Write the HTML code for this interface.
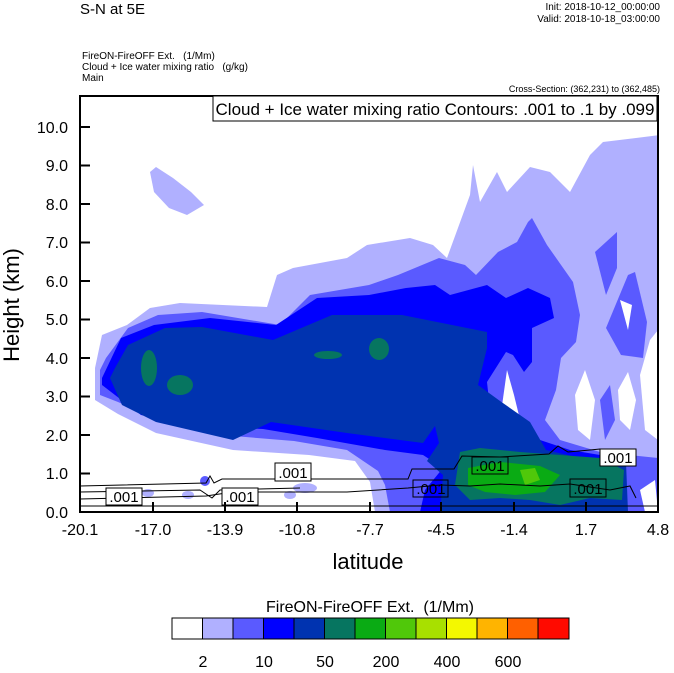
<!DOCTYPE html>
<html><head><meta charset="utf-8"><style>
body{margin:0;background:#fff;width:674px;height:668px;overflow:hidden}
text{font-family:"Liberation Sans",Arial,sans-serif;fill:#000;white-space:pre}
</style></head><body>
<svg width="674" height="668" viewBox="0 0 674 668" xmlns="http://www.w3.org/2000/svg">
<text x="80" y="14" font-size="15">S-N at 5E</text>
<text x="660" y="10" font-size="10" text-anchor="end">Init: 2018-10-12_00:00:00</text>
<text x="660" y="22" font-size="10" text-anchor="end">Valid: 2018-10-18_03:00:00</text>
<text x="82" y="59" font-size="10">FireON-FireOFF Ext.   (1/Mm)</text>
<text x="82" y="70" font-size="10">Cloud + Ice water mixing ratio   (g/kg)</text>
<text x="82" y="81" font-size="10">Main</text>
<text x="660" y="92" font-size="9" text-anchor="end">Cross-Section: (362,231) to (362,485)</text>
<defs><clipPath id="c"><rect x="80" y="96" width="578" height="416"/></clipPath></defs>
<g clip-path="url(#c)">
<path fill="#b0b0ff" d="M95,400 L95,368 L102,335 L127,325 L150,308 L180,303 L267,307 L277,275 L293,268 L347,258 L367,245 L410,238 L433,245 L447,258 L470,195 L473,165 L480,202 L497,172 L507,192 L530,167 L550,172 L570,192 L590,155 L603,142 L660,135 L660,512 L375,512 L370,482 L355,461 L309,455 L233,450 L156,433 L118,414 Z"/>
<path fill="#b0b0ff" d="M150,172 L156,167 L173,178 L191,192 L204,205 L187,215 L169,208 L154,192 Z"/>
<ellipse cx="205" cy="481" rx="5" ry="5" fill="#5a5aff"/>
<ellipse cx="148" cy="493" rx="6" ry="4" fill="#b0b0ff"/>
<ellipse cx="188" cy="495" rx="6" ry="4" fill="#b0b0ff"/>
<ellipse cx="290" cy="495" rx="6" ry="4" fill="#b0b0ff"/>
<ellipse cx="305" cy="488" rx="12" ry="5" fill="#b0b0ff"/>
<path fill="#5a5aff" d="M100,395 L100,370 L106,358 L128,328 L158,315 L202,312 L280,325 L310,295 L369,285 L398,275 L439,258 L465,265 L476,275 L498,252 L517,242 L528,222 L532,218 L547,245 L573,282 L580,315 L576,342 L561,358 L556,390 L545,420 L560,440 L600,452 L658,458 L658,512 L390,512 L385,485 L378,471 L347,450 L294,441 L233,436 L156,419 L118,402 Z"/>
<path fill="#5a5aff" d="M595,252 L617,232 L617,268 L606,295 Z"/>
<path fill="#5a5aff" d="M628,275 L635,272 L647,322 L643,358 L621,355 L606,328 Z"/>
<path fill="#5a5aff" d="M600,400 L610,385 L615,420 L605,440 Z"/>
<path fill="#fff" d="M500,420 L507,370 L514,395 L525,440 L520,455 L505,455 Z"/>
<path fill="#fff" d="M575,395 L585,370 L595,400 L590,440 L578,430 Z"/>
<path fill="#fff" d="M618,390 L628,372 L636,400 L630,430 L620,420 Z"/>
<path fill="#fff" d="M640,375 L650,340 L658,330 L658,440 L645,430 Z"/>
<path fill="#fff" d="M620,300 L632,305 L628,330 Z"/>
<path fill="#fff" d="M640,490 L655,480 L658,512 L645,512 Z"/>
<path fill="#0000ff" d="M102,385 L102,378 L121,338 L154,325 L210,318 L276,325 L317,298 L369,295 L406,288 L435,285 L450,295 L487,285 L506,298 L528,288 L550,298 L554,318 L532,328 L532,362 L524,372 L513,355 L506,352 L487,382 L490,410 L500,430 L540,440 L570,450 L600,455 L625,460 L625,512 L420,512 L425,490 L443,468 L423,455 L385,450 L317,438 L263,429 L194,426 L141,415 Z"/>
<path fill="#0033b0" d="M110,378 L115,368 L128,345 L165,328 L202,327 L273,340 L332,315 L402,315 L487,332 L487,348 L478,385 L500,401 L530,422 L546,450 L576,457 L626,462 L628,512 L440,512 L443,475 L427,461 L439,443 L435,426 L423,443 L347,433 L271,422 L233,440 L156,422 L122,405 Z"/>
<ellipse cx="149" cy="368" rx="8" ry="18" fill="#067560"/>
<ellipse cx="180" cy="385" rx="13" ry="10" fill="#067560"/>
<ellipse cx="379" cy="349" rx="10" ry="11" fill="#067560"/>
<ellipse cx="328" cy="355" rx="14" ry="4" fill="#067560"/>
<path fill="#067560" d="M460,452 L480,448 L520,452 L560,455 L600,458 L624,470 L622,500 L590,498 L560,505 L530,500 L500,498 L470,500 L455,485 Z"/>
<path fill="#0aab14" d="M468,468 L500,462 L540,466 L560,475 L545,492 L515,495 L485,492 L468,485 Z"/>
<path fill="#50c80a" d="M520,470 L535,468 L540,480 L525,485 Z"/>
</g>
<g fill="none" stroke="#000" stroke-width="1">
<path d="M80,486 L206,483 L210,476 L214,483 L222,479 L408,479 L412,469 L454,469 L462,456 L500,457 L549,454 L558,446 L568,452 L590,450 L600,449"/>
<path d="M80,499 L206,496 L233,492 L347,492 L408,488 L440,485 L470,486 L500,484 L540,486 L570,484 L610,490 L630,486 L636,498"/>
<path d="M80,506 L658,506"/>
<path d="M80,492 L200,490 L212,498 L220,490 L300,488"/>
</g>
<g font-size="15" text-anchor="middle">
<rect x="106" y="488" width="36" height="17" fill="#fff" stroke="#000"/><text x="124" y="502">.001</text>
<rect x="222" y="488" width="36" height="17" fill="#fff" stroke="#000"/><text x="240" y="502">.001</text>
<rect x="275" y="463" width="36" height="18" fill="#fff" stroke="#000"/><text x="293" y="478">.001</text>
<rect x="413" y="480" width="35" height="17" fill="none" stroke="#000"/><text x="431" y="494">.001</text>
<rect x="472" y="457" width="36" height="17" fill="none" stroke="#000"/><text x="490" y="471">.001</text>
<rect x="570" y="479" width="36" height="18" fill="none" stroke="#000"/><text x="588" y="494">.001</text>
<rect x="600" y="449" width="36" height="17" fill="#fff" stroke="#000"/><text x="618" y="463">.001</text>
</g>
<rect x="80" y="96" width="578" height="416" fill="none" stroke="#000" stroke-width="2"/>
<rect x="213" y="96" width="444" height="25" fill="#fff" stroke="#000" stroke-width="1"/>
<text x="435" y="115" font-size="17" text-anchor="middle">Cloud + Ice water mixing ratio Contours: .001 to .1 by .099</text>
<g stroke="#000" stroke-width="2">
<path d="M80,473.5h10M80,435h10M80,396.5h10M80,358h10M80,319.5h10M80,281h10M80,242.5h10M80,204h10M80,165.5h10M80,127h10"/>
<path d="M153,512v-10M225,512v-10M297,512v-10M370,512v-10M441,512v-10M514,512v-10M586,512v-10"/>
</g>
<g font-size="16" text-anchor="end">
<text x="68" y="518">0.0</text><text x="68" y="479">1.0</text><text x="68" y="441">2.0</text><text x="68" y="402">3.0</text><text x="68" y="364">4.0</text><text x="68" y="325">5.0</text><text x="68" y="287">6.0</text><text x="68" y="248">7.0</text><text x="68" y="210">8.0</text><text x="68" y="171">9.0</text><text x="68" y="133">10.0</text>
</g>
<g font-size="16" text-anchor="middle">
<text x="80" y="535">-20.1</text><text x="153" y="535">-17.0</text><text x="225" y="535">-13.9</text><text x="297" y="535">-10.8</text><text x="370" y="535">-7.7</text><text x="441" y="535">-4.5</text><text x="514" y="535">-1.4</text><text x="586" y="535">1.7</text><text x="658" y="535">4.8</text>
</g>
<text x="368" y="569" font-size="22" text-anchor="middle">latitude</text>
<text transform="translate(19,305) rotate(-90)" font-size="22" text-anchor="middle">Height (km)</text>
<text x="370" y="612" font-size="16" text-anchor="middle">FireON-FireOFF Ext.  (1/Mm)</text>
<g stroke="#000" stroke-width="1">
<rect x="172" y="618" width="30.5" height="21" fill="#fff"/>
<rect x="202.5" y="618" width="30.5" height="21" fill="#b0b0ff"/>
<rect x="233" y="618" width="30.5" height="21" fill="#5a5aff"/>
<rect x="263.5" y="618" width="30.5" height="21" fill="#0000ff"/>
<rect x="294" y="618" width="30.5" height="21" fill="#0033b0"/>
<rect x="324.5" y="618" width="30.5" height="21" fill="#067560"/>
<rect x="355" y="618" width="30.5" height="21" fill="#0aab14"/>
<rect x="385.5" y="618" width="30.5" height="21" fill="#50c80a"/>
<rect x="416" y="618" width="30.5" height="21" fill="#a8e000"/>
<rect x="446.5" y="618" width="30.5" height="21" fill="#f4f800"/>
<rect x="477" y="618" width="30.5" height="21" fill="#ffb400"/>
<rect x="507.5" y="618" width="30.5" height="21" fill="#ff6000"/>
<rect x="538" y="618" width="31" height="21" fill="#ff0a00"/>
</g>
<g font-size="16" text-anchor="middle">
<text x="203" y="667">2</text><text x="264" y="667">10</text><text x="325" y="667">50</text><text x="386" y="667">200</text><text x="447" y="667">400</text><text x="508" y="667">600</text>
</g>
</svg>
</body></html>
